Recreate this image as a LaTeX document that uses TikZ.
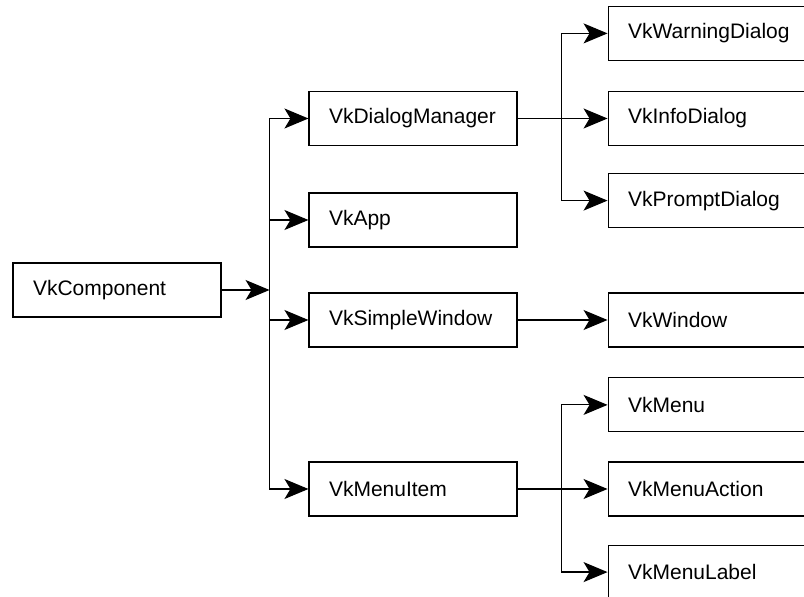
\documentclass[tikz,border=0pt]{standalone}
\usepackage{fontspec}
\setmainfont{Liberation Sans}
\usepackage{tikz}
\usetikzlibrary{arrows.meta,positioning}

\begin{document}
\begin{tikzpicture}[
        x=1pt, y=1pt,
        node distance=30pt and 90pt,
        classbox/.style={rectangle, draw, line width=1.1pt, minimum width=208pt, minimum height=54pt, text width=168pt, inner xsep=20pt, align=left, font=\fontsize{21}{25}\selectfont},
        arrow/.style={-{Stealth[length=24pt, width=20pt, inset=6pt]}, line width=1.2pt}
    ]

    \clip (0,0) rectangle (804,597);

    % Root
    \node[classbox] (comp) at (117,307) {VkComponent};
    \coordinate[right=48pt of comp] (comphub);

    % Second column
    \node[classbox] (dlgmgr) at (413,478.5) {VkDialogManager};
    \node[classbox] (app) at (413,377) {VkApp};
    \node[classbox] (simplewin) at (413,277) {VkSimpleWindow};
    \node[classbox] (menuitem) at (413,108) {VkMenuItem};

    % Third column: dialogs
    \node[classbox, right=of dlgmgr] (info) {VkInfoDialog};
    \node[classbox, above=30pt of info] (warning) {VkWarningDialog};
    \node[classbox, below=27pt of info] (prompt) {VkPromptDialog};
    \coordinate[right=44pt of dlgmgr] (dlghub);

    % Third column: window
    \node[classbox, right=of simplewin] (window) {VkWindow};

    % Third column: menus
    \node[classbox, right=of menuitem] (menuaction) {VkMenuAction};
    \node[classbox, above=29pt of menuaction] (menu) {VkMenu};
    \node[classbox, below=28pt of menuaction] (menulabel) {VkMenuLabel};
    \coordinate[right=44pt of menuitem] (menuhub);

    % Arrows - root to second column
    \draw[arrow] (comp) -- (comphub);
    \draw[arrow] (comphub) |- (dlgmgr.west);
    \draw[arrow] (comphub) |- (app.west);
    \draw[arrow] (comphub) |- (simplewin.west);
    \draw[arrow] (comphub) |- (menuitem.west);

    % Arrows - dialogs
    \draw[arrow] (dlgmgr) -- (info);
    \draw[arrow] (dlghub) |- (warning.west);
    \draw[arrow] (dlghub) |- (prompt.west);

    % Arrows - window
    \draw[arrow] (simplewin) -- (window);

    % Arrows - menus
    \draw[arrow] (menuitem) -- (menuaction);
    \draw[arrow] (menuhub) |- (menu.west);
    \draw[arrow] (menuhub) |- (menulabel.west);

\end{tikzpicture}
\end{document}
